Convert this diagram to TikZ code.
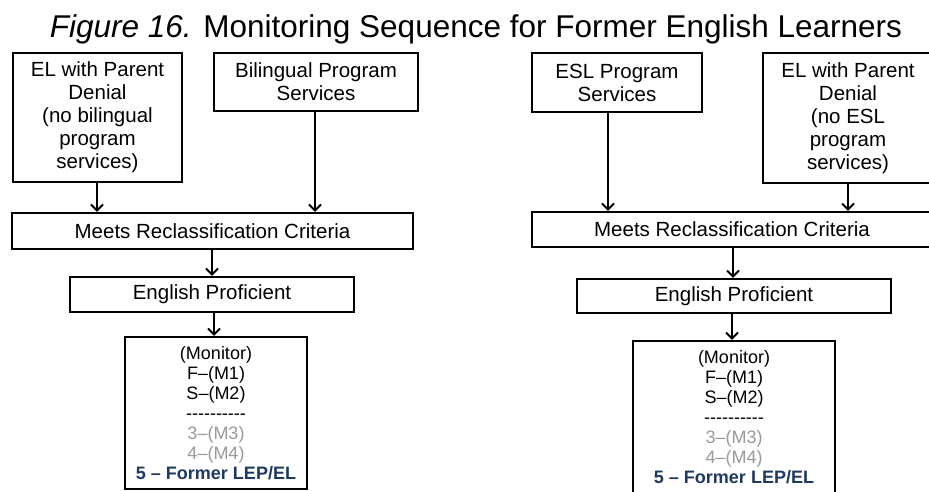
\documentclass[tikz,border=0pt]{standalone}
\usepackage{fontspec}
\setmainfont{Liberation Sans}
\usetikzlibrary{arrows.meta}
\definecolor{greytxt}{HTML}{9A9A9A}
\definecolor{navytxt}{HTML}{1F3A60}
\newcommand{\hyphenrow}{-{}-{}-{}-{}-{}-{}-{}-{}-{}-}
\begin{document}
\begin{tikzpicture}[x=1pt,y=-1pt,
  box/.style={draw=black, line width=2.2pt, inner sep=0pt, align=center,
    font=\fontsize{20.5}{23}\selectfont},
  monbox/.style={draw=black, line width=2.2pt, inner sep=0pt, align=center,
    font=\fontsize{18}{20}\selectfont},
  arr/.style={line width=2pt, -{Straight Barb[length=6pt,width=12pt,line width=2pt]}}
]
\useasboundingbox (0,0) rectangle (929,491);
\clip (0,0) rectangle (929,491);
\fill[white] (0,0) rectangle (929,491);

% title
\node[anchor=base, font=\fontsize{31.5}{34}\selectfont, inner sep=0pt] (title) at (476,37)
  {\textit{Figure 16.} Monitoring Sequence for Former English Learners};

% left diagram
\node[box, minimum width=169pt, minimum height=129pt] (elA) at (97.5,117.5)
  {EL with Parent\\Denial\\(no bilingual\\program\\services)};
\node[box, minimum width=204pt, minimum height=58pt] (bil) at (316,82)
  {Bilingual Program\\Services};
\node[box, minimum width=401pt, minimum height=36pt] (meetsL) at (212.5,231)
  {Meets Reclassification Criteria};
\node[box, minimum width=284pt, minimum height=35pt] (epL) at (212,294.5)
  {English Proficient};
\node[monbox, minimum width=182pt, minimum height=152pt] (monL) at (216,413)
  {(Monitor)\\F\textendash(M1)\\S\textendash(M2)\\\hyphenrow\\
   \textcolor{greytxt}{3\textendash(M3)}\\\textcolor{greytxt}{4\textendash(M4)}\\
   \textcolor{navytxt}{\bfseries 5 \textendash{} Former LEP/EL}};

\draw[arr] ([xshift=-0.5pt]elA.south) -- ([xshift=-0.5pt]elA.south |- meetsL.north);
\draw[arr] ([xshift=-1pt]bil.south) -- ([xshift=-1pt]bil.south |- meetsL.north);
\draw[arr] ([xshift=-0.5pt]meetsL.south) -- ([xshift=-0.5pt]meetsL.south |- epL.north);
\draw[arr] ([xshift=2pt]epL.south) -- ([xshift=2pt]epL.south |- monL.north);

% right diagram
\node[box, minimum width=170pt, minimum height=59pt] (esl) at (617,82.5)
  {ESL Program\\Services};
\node[box, minimum width=170pt, minimum height=130pt] (elB) at (848,118)
  {EL with Parent\\Denial\\(no ESL\\program\\services)};
\node[box, minimum width=400pt, minimum height=35pt] (meetsR) at (732,229.5)
  {Meets Reclassification Criteria};
\node[box, minimum width=314pt, minimum height=34pt] (epR) at (734,296)
  {English Proficient};
\node[monbox, minimum width=202pt, minimum height=152pt] (monR) at (734,417)
  {(Monitor)\\F\textendash(M1)\\S\textendash(M2)\\\hyphenrow\\
   \textcolor{greytxt}{3\textendash(M3)}\\\textcolor{greytxt}{4\textendash(M4)}\\
   \textcolor{navytxt}{\bfseries 5 \textendash{} Former LEP/EL}};

\draw[arr] ([xshift=-9pt]esl.south) -- ([xshift=-9pt]esl.south |- meetsR.north);
\draw[arr] (elB.south) -- (elB.south |- meetsR.north);
\draw[arr] ([xshift=1pt]meetsR.south) -- ([xshift=1pt]meetsR.south |- epR.north);
\draw[arr] ([xshift=-2pt]epR.south) -- ([xshift=-2pt]epR.south |- monR.north);
\end{tikzpicture}
\end{document}
